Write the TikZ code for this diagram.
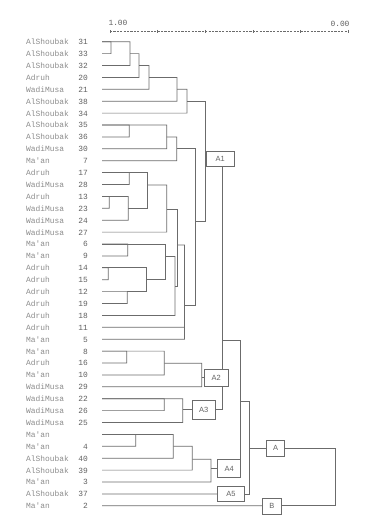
\documentclass[tikz,border=0pt]{standalone}
\usepackage{fontspec}
\usepackage{tikz}
\newfontfamily\leaffont[Ligatures=TeXOff]{Liberation Mono}
\newfontfamily\boxfont{Liberation Sans}
\definecolor{sitegray}{gray}{0.55}
\definecolor{numgray}{gray}{0.38}
\definecolor{treegray}{gray}{0.42}
\tikzset{
  site/.style={anchor=west, inner sep=0pt, text height=1.6ex, text depth=.25ex,
    text=sitegray, font=\leaffont\fontsize{7.9}{8}\selectfont},
  acc/.style={anchor=east, inner sep=0pt, text height=1.6ex, text depth=.25ex,
    text=numgray, font=\leaffont\fontsize{7.9}{8}\selectfont},
  branch/.style={draw=treegray, line width=0.7pt},
  grp/.style={draw=treegray, line width=0.6pt, inner sep=0pt, text=numgray,
    font=\boxfont\fontsize{7.5}{8}\selectfont},
  axisline/.style={draw=treegray, line width=0.4pt, dash pattern=on 2.2pt off 1.2pt},
}

\begin{document}
\begin{tikzpicture}[x=1pt,y=-1pt]
        \useasboundingbox (0,0) rectangle (386,517);
        % similarity scale
        \node[acc, anchor=center] (hi) at (118,22.5) {1.00};
        \node[acc, anchor=center] (lo) at (340,24) {0.00};
        \draw[axisline] (110,31.5) -- (348,31.5);
        \foreach \t in {0,...,5}
          \draw[treegray, line width=0.4pt] ({110+47.6*\t},29.8) -- ++(0,3.4);
        % accessions
        \foreach \site/\num [count=\i from 0] in {AlShoubak/31, AlShoubak/33, AlShoubak/32,
            Adruh/20, WadiMusa/21, AlShoubak/38, AlShoubak/34, AlShoubak/35, AlShoubak/36,
            WadiMusa/30, Ma'an/7, Adruh/17, WadiMusa/28, Adruh/13, WadiMusa/23, WadiMusa/24,
            WadiMusa/27, Ma'an/6, Ma'an/9, Adruh/14, Adruh/15, Adruh/12, Adruh/19, Adruh/18,
            Adruh/11, Ma'an/5, Ma'an/8, Adruh/16, Ma'an/10, WadiMusa/29, WadiMusa/22,
            WadiMusa/26, WadiMusa/25, Ma'an/{}, Ma'an/4, AlShoubak/40, AlShoubak/39,
            Ma'an/3, AlShoubak/37, Ma'an/2}{
          \node[site] (n\i) at (26,{41.7+11.9*\i}) {\site};
          \node[acc] (k\i) at (88,{41.7+11.9*\i}) {\num};
          \coordinate (r\i) at (102,{41.7+11.9*\i});
        }
        % cluster boxes
        \node[grp, minimum width=28pt, minimum height=15pt] (a1) at (220.2,159.2) {A1};
        \node[grp, minimum width=24pt, minimum height=16.7pt] (a2) at (216.3,377.7) {A2};
        \node[grp, minimum width=22.7pt, minimum height=18.3pt] (a3) at (203.7,409.8) {A3};
        \node[grp, minimum width=22.8pt, minimum height=17.6pt] (a4) at (229.1,468.5) {A4};
        \node[grp, minimum width=26.6pt, minimum height=15.7pt] (a5) at (231,493.9) {A5};
        \node[grp, minimum width=17.6pt, minimum height=16pt] (a) at (275.5,448.3) {A};
        \node[grp, minimum width=18.3pt, minimum height=16pt] (b) at (271.8,505.8) {B};
        % A1
        \draw[branch] (r0) -| (111,53.6) -- (r1);
        \draw[branch] (r0) -| (130,65.5) -- (r2);
        \draw[branch] (130,53.6) -| (139,77.4) -- (r3);
        \draw[branch] (139,65.5) -| (149,89.3) -- (r4);
        \draw[branch] (149,77.4) -| (177,101.2) -- (r5);
        \draw[branch] (177,89.3) -| (187,113.1) -- (r6);
        \draw[branch] (r7) -| (129.3,136.9) -- (r8);
        \draw[branch] (r7) -| (166.7,148.8) -- (r9);
        \draw[branch] (166.7,136.9) -| (176.7,160.7) -- (r10);
        \draw[branch] (r11) -| (129.3,184.5) -- (r12);
        \draw[branch] (r13) -| (109.3,208.3) -- (r14);
        \draw[branch] (r13) -| (128.3,220.2) -- (r15);
        \draw[branch] (r11) -| (147.7,208.3) -- (128.3,208.3);
        \draw[branch] (147.7,185) -| (166.7,232.1) -- (r16);
        \draw[branch] (r17) -| (127.7,255.9) -- (r18);
        \draw[branch] (r19) -| (108.3,279.7) -- (r20);
        \draw[branch] (r21) -| (127.3,303.5) -- (r22);
        \draw[branch] (r19) -| (146,291.6) -- (127.3,291.6);
        \draw[branch] (r17) -| (165.7,279.7) -- (146,279.7);
        \draw[branch] (165.7,256.5) -| (175,315.4) -- (r23);
        \draw[branch] (166.7,209.3) -| (177,286.5) -- (175,286.5);
        \draw[branch] (177,245) -| (184.5,339.2) -- (r25);
        \draw[branch] (r24) -- (184.5,327.3);
        \draw[branch] (176.7,148.8) -| (195.5,305) -- (184.5,305);
        \draw[branch] (187,101.2) -| (205,221.7) -- (195.5,221.7);
        \draw[branch] (205,0 |- a1.west) -- (a1.west);
        % A2
        \draw[branch] (r26) -| (126.7,363) -- (r27);
        \draw[branch] (r26) -| (164.3,374.9) -- (r28);
        \draw[branch] (164.3,363.3) -| (201.7,386.8) -- (r29);
        \draw[branch] (201.7,0 |- a2.west) -- (a2.west);
        % A3
        \draw[branch] (r30) -| (164.3,410.6) -- (r31);
        \draw[branch] (r30) -| (182.7,422.5) -- (r32);
        \draw[branch] (182.7,0 |- a3.west) -- (a3.west);
        % A4
        \draw[branch] (r33) -| (135.7,446.3) -- (r34);
        \draw[branch] (r33) -| (173.3,458.2) -- (r35);
        \draw[branch] (173.3,446.3) -| (192.3,470.1) -- (r36);
        \draw[branch] (192.3,459.3) -| (211,482) -- (r37);
        \draw[branch] (211,0 |- a4.west) -- (a4.west);
        % A5
        \draw[branch] (r38) -- (a5.west);
        % joining the groups
        \draw[branch] (a1.south -| 222.5,0) -- (a2.north -| 222.5,0);
        \draw[branch] (a2.south -| 222.5,0) |- (a3.east);
        \draw[branch] (222.5,340) -| (a4.south east);
        \draw[branch] (240.5,401) -| (249.5,0 |- a5.east) -- (a5.east);
        \draw[branch] (249.5,0 |- a.west) -- (a.west);
        \draw[branch] (a.east) -| (335,0 |- b.east) -- (b.east);
        \draw[branch] (b.west) -- (r39);
      \end{tikzpicture}
\end{document}
